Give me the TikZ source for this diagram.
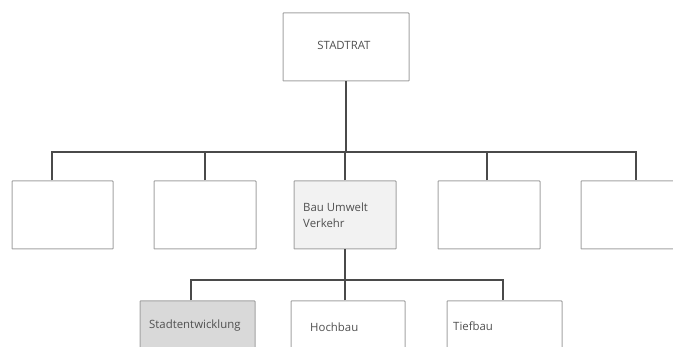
\documentclass[tikz,border=0pt]{standalone}
\usepackage{fontspec}
\setmainfont{Open Sans}
\begin{document}
\begin{tikzpicture}[x=1pt,y=-1pt,
  box/.style={draw=boxgray,line width=1pt,minimum height=68pt,inner sep=0pt,rounded corners=0.6pt},
  link/.style={draw=linegray,line width=1.3pt},
  lbl/.style={text=txtgray,font=\fontsize{11.4}{16}\selectfont,inner sep=0pt,align=left}]
\definecolor{boxgray}{HTML}{A3A3A3}
\definecolor{linegray}{HTML}{4A4A4A}
\definecolor{txtgray}{HTML}{505050}
\definecolor{lightfill}{HTML}{F2F2F2}
\definecolor{midfill}{HTML}{D9D9D9}
\useasboundingbox (0,0) rectangle (673,347);
\clip (0,0) rectangle (673,347);
% top level
\node[box,minimum width=126pt] (rat) at (346,47) {};
\node[lbl] (ratT) at (344,45) {STADTRAT};
% departments
\node[box,minimum width=101pt] (d1) at (62.5,215) {};
\node[box,minimum width=102pt] (d2) at (205,215) {};
\node[box,minimum width=102pt,fill=lightfill] (d3) at (345,215) {};
\node[box,minimum width=102pt] (d4) at (489,215) {};
\node[box,minimum width=102pt] (d5) at (632,215) {};
\node[lbl,anchor=north west] (d3T) at (303,203) {Bau Umwelt\\Verkehr};
% offices
\node[box,minimum width=115pt,fill=midfill] (o1) at (197.5,335) {};
\node[box,minimum width=114pt] (o2) at (348,335) {};
\node[box,minimum width=115pt] (o3) at (504.5,335) {};
\node[lbl,anchor=west] (o1T) at (149,326) {Stadtentwicklung};
\node[lbl,anchor=west] (o2T) at (310,327) {Hochbau};
\node[lbl,anchor=west] (o3T) at (453,326) {Tiefbau};
% bus heights and drop points
\coordinate (busA) at (0,152);
\coordinate (busB) at (0,280);
\coordinate (d1in) at ([xshift=-10.5pt]d1.north);
\coordinate (d4in) at ([xshift=-2pt]d4.north);
\coordinate (d5in) at ([xshift=4pt]d5.north);
\coordinate (o1in) at ([xshift=-6.5pt]o1.north);
\coordinate (o2in) at ([xshift=-3pt]o2.north);
\coordinate (o3in) at ([xshift=-1.5pt]o3.north);
% upper bus
\draw[link] (rat.south) -- (rat.south |- busA);
\draw[link] (d1in) |- (d5in |- busA) -- (d5in);
\draw[link] (d2.north) -- (d2.north |- busA);
\draw[link] (d3.north) -- (d3.north |- busA);
\draw[link] (d4in) -- (d4in |- busA);
% lower bus
\draw[link] (d3.south) -- (d3.south |- busB);
\draw[link] (o1in) |- (o3in |- busB) -- (o3in);
\draw[link] (o2in) -- (o2in |- busB);
\end{tikzpicture}
\end{document}
